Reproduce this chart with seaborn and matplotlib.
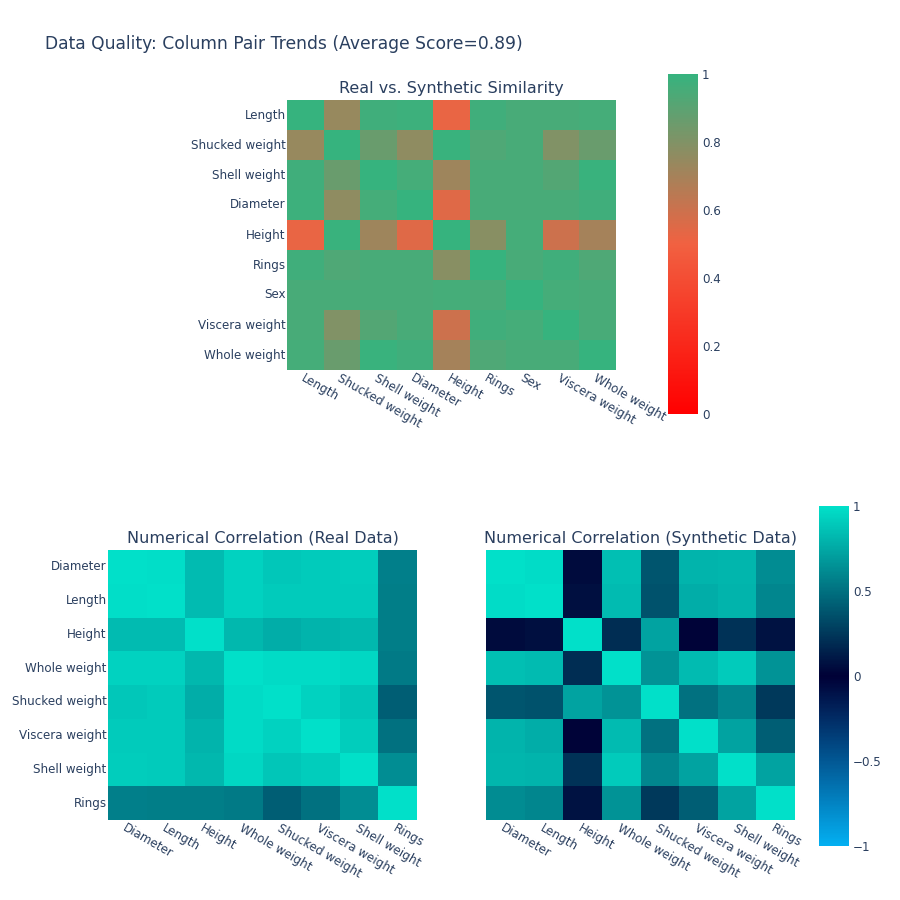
import numpy as np
import pandas as pd
import matplotlib
matplotlib.use("Agg")
import matplotlib.pyplot as plt
import seaborn as sns
from matplotlib.colors import LinearSegmentedColormap

sns.set_theme(style="white")
plt.rcParams['font.family'] = ['DejaVu Sans']

TXT = '#2a3f5f'

title = "Data Quality: Column Pair Trends (Average Score=0.89)"

sim_cols = ["Length", "Shucked weight", "Shell weight", "Diameter", "Height",
            "Rings", "Sex", "Viscera weight", "Whole weight"]
sim_values = [
    [1.00, 0.74, 0.97, 0.98, 0.52, 0.97, 0.95, 0.95, 0.96],
    [0.74, 1.00, 0.86, 0.76, 0.99, 0.93, 0.95, 0.80, 0.86],
    [0.97, 0.86, 1.00, 0.96, 0.72, 0.95, 0.95, 0.92, 0.99],
    [0.98, 0.76, 0.96, 1.00, 0.55, 0.95, 0.95, 0.95, 0.97],
    [0.52, 0.99, 0.72, 0.55, 1.00, 0.78, 0.96, 0.60, 0.70],
    [0.97, 0.93, 0.95, 0.95, 0.78, 1.00, 0.95, 0.97, 0.93],
    [0.95, 0.95, 0.95, 0.95, 0.96, 0.95, 1.00, 0.96, 0.95],
    [0.95, 0.80, 0.92, 0.95, 0.60, 0.97, 0.96, 1.00, 0.95],
    [0.96, 0.86, 0.99, 0.97, 0.70, 0.93, 0.95, 0.95, 1.00],
]

corr_cols = ["Diameter", "Length", "Height", "Whole weight", "Shucked weight",
             "Viscera weight", "Shell weight", "Rings"]
real_corr = [
    [1.00, 0.99, 0.83, 0.93, 0.89, 0.90, 0.91, 0.57],
    [0.99, 1.00, 0.83, 0.93, 0.90, 0.90, 0.90, 0.56],
    [0.83, 0.83, 1.00, 0.82, 0.77, 0.80, 0.82, 0.56],
    [0.93, 0.93, 0.82, 1.00, 0.97, 0.97, 0.96, 0.54],
    [0.89, 0.90, 0.77, 0.97, 1.00, 0.93, 0.88, 0.42],
    [0.90, 0.90, 0.80, 0.97, 0.93, 1.00, 0.91, 0.50],
    [0.91, 0.90, 0.82, 0.96, 0.88, 0.91, 1.00, 0.63],
    [0.57, 0.56, 0.56, 0.54, 0.42, 0.50, 0.63, 1.00],
]
synth_corr = [
    [1.00, 0.98, 0.05, 0.85, 0.38, 0.80, 0.81, 0.62],
    [0.98, 1.00, 0.07, 0.83, 0.36, 0.77, 0.80, 0.60],
    [0.05, 0.07, 1.00, 0.20, 0.72, 0.01, 0.22, 0.08],
    [0.85, 0.83, 0.20, 1.00, 0.65, 0.83, 0.90, 0.65],
    [0.38, 0.36, 0.72, 0.65, 1.00, 0.50, 0.60, 0.25],
    [0.80, 0.77, 0.01, 0.83, 0.50, 1.00, 0.72, 0.42],
    [0.81, 0.80, 0.22, 0.90, 0.60, 0.72, 1.00, 0.72],
    [0.62, 0.60, 0.08, 0.65, 0.25, 0.42, 0.72, 1.00],
]

sim_cmap = LinearSegmentedColormap.from_list(
    "sim", [(0.0, '#FF0000'), (0.5, '#F16141'), (1.0, '#36B37E')])
corr_cmap = LinearSegmentedColormap.from_list(
    "corr", [(0.0, '#03AFF1'), (0.5, '#000036'), (1.0, '#01E0C9')])

fig = plt.figure(figsize=(9, 9), dpi=100)
W = H = 900.0

def ax_px(x0, y0, x1, y1):
    return fig.add_axes([x0 / W, 1 - y1 / H, (x1 - x0) / W, (y1 - y0) / H])

fig.text(45 / W, 1 - 44 / H, title, fontsize=12.3, color=TXT, ha='left', va='center')

def style_axes(ax, t, ty):
    ax.set_xlabel('')
    ax.set_ylabel('')
    ax.tick_params(axis='both', length=0, labelsize=8.6, colors=TXT, pad=1)
    for lab in ax.get_xticklabels():
        lab.set_rotation(-30)
        lab.set_ha('left')
        lab.set_va('top')
        lab.set_rotation_mode('anchor')
    for lab in ax.get_yticklabels():
        lab.set_rotation(0)
    ax.text(0.5, ty, t, transform=ax.transAxes, ha='center', va='bottom',
            fontsize=11.5, color=TXT)

def style_cbar(cax, ticks, labels):
    cax.set_yticks(ticks)
    cax.set_yticklabels(labels)
    cax.tick_params(length=0, labelsize=8.6, colors=TXT, pad=3)
    for s in cax.spines.values():
        s.set_visible(False)

# Top heatmap
ax1 = ax_px(287, 100, 616, 370)
cax1 = ax_px(668, 74, 698, 414)
df_sim = pd.DataFrame(sim_values, index=sim_cols, columns=sim_cols)
sns.heatmap(df_sim, ax=ax1, cbar_ax=cax1, cmap=sim_cmap, vmin=0, vmax=1,
            square=False, linewidths=0)
style_axes(ax1, "Real vs. Synthetic Similarity", 1.015)
style_cbar(cax1, [0, 0.2, 0.4, 0.6, 0.8, 1], ["0", "0.2", "0.4", "0.6", "0.8", "1"])

# Bottom-left
ax2 = ax_px(108, 550, 417, 820)
df_real = pd.DataFrame(real_corr, index=corr_cols, columns=corr_cols)
sns.heatmap(df_real, ax=ax2, cbar=False, cmap=corr_cmap, vmin=-1, vmax=1)
style_axes(ax2, "Numerical Correlation (Real Data)", 1.015)

# Bottom-right
ax3 = ax_px(486, 550, 795, 820)
cax3 = ax_px(819, 506, 849, 846)
df_syn = pd.DataFrame(synth_corr, index=corr_cols, columns=corr_cols)
sns.heatmap(df_syn, ax=ax3, cbar_ax=cax3, cmap=corr_cmap, vmin=-1, vmax=1,
            yticklabels=False)
style_axes(ax3, "Numerical Correlation (Synthetic Data)", 1.015)
style_cbar(cax3, [-1, -0.5, 0, 0.5, 1], ["\u22121", "\u22120.5", "0", "0.5", "1"])

fig.savefig("out.png", dpi=100, facecolor='white')
